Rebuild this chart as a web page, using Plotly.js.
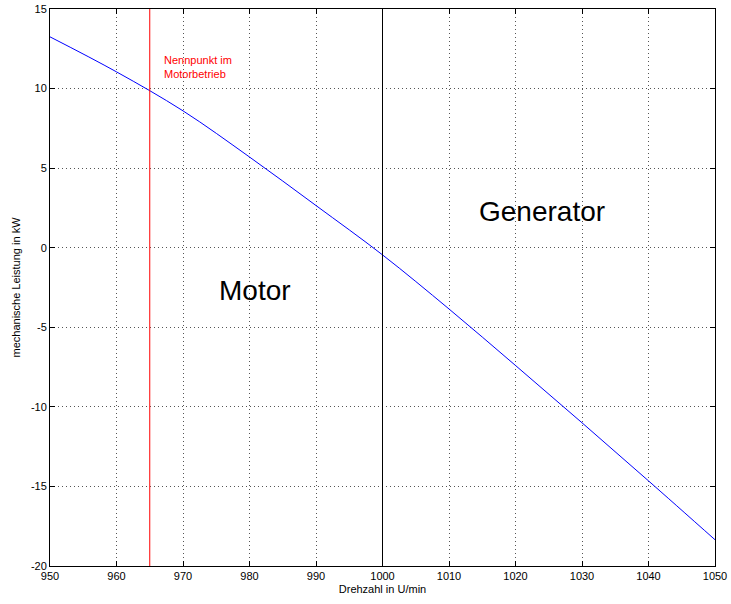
<!DOCTYPE html>
<html>
<head>
<meta charset="utf-8">
<script src="https://cdn.plot.ly/plotly-3.0.1.min.js"></script>
<style>html,body{margin:0;padding:0;background:#fff;}#chart{width:731px;height:604px;}</style>
</head>
<body>
<div id="chart"></div>
<script>
// Data
const speed = [950, 960, 970, 980, 990, 1000, 1010, 1020, 1030, 1040, 1050];
const power = [13.25, 11.05, 8.6, 5.7, 2.65, -0.45, -3.85, -7.4, -11.0, -14.65, -18.35];
const ratedSpeed = 965;
const syncSpeed = 1000;
const xTicks = [950, 960, 970, 980, 990, 1000, 1010, 1020, 1030, 1040, 1050];
const yTicks = [-20, -15, -10, -5, 0, 5, 10, 15];
const xRange = [950, 1050];
const yRange = [-20, 15];

const font = 'Liberation Sans, Arial, sans-serif';

const traces = [
  {x: speed, y: power, type: 'scatter', mode: 'lines',
   line: {color: '#0000ff', width: 1, shape: 'spline', smoothing: 1}, hoverinfo: 'skip'}
];

const axisCommon = {
  showline: true, linecolor: '#000', linewidth: 1, mirror: 'ticks',
  ticks: 'inside', ticklen: 5, tickcolor: '#000', tickwidth: 1,
  showgrid: true, gridcolor: '#555', griddash: '1px,3px', gridwidth: 1,
  zeroline: false, tickfont: {family: font, size: 11, color: '#000'}
};

const layout = {
  width: 731, height: 604,
  margin: {l: 50, r: 16, t: 9, b: 38},
  paper_bgcolor: '#fff', plot_bgcolor: '#fff',
  showlegend: false,
  font: {family: font, color: '#000'},
  xaxis: Object.assign({}, axisCommon, {
    range: xRange, tickvals: xTicks, ticktext: xTicks.map(String),
    title: {text: 'Drehzahl in U/min', font: {family: font, size: 11}, standoff: 4}
  }),
  yaxis: Object.assign({}, axisCommon, {
    range: yRange, tickvals: yTicks, ticktext: yTicks.map(String),
    title: {text: 'mechanische Leistung in kW', font: {family: font, size: 11}, standoff: 8}
  }),
  shapes: [
    {type: 'line', xref: 'x', yref: 'paper', x0: ratedSpeed, x1: ratedSpeed, y0: 0, y1: 1,
     line: {color: '#ff0000', width: 1}},
    {type: 'line', xref: 'x', yref: 'paper', x0: syncSpeed, x1: syncSpeed, y0: 0, y1: 1,
     line: {color: '#000', width: 1}}
  ],
  annotations: [
    {x: 966.8, y: 12.3, xref: 'x', yref: 'y', xanchor: 'left', yanchor: 'top',
     text: 'Nennpunkt im<br>Motorbetrieb', showarrow: false, align: 'left',
     font: {family: font, size: 11, color: '#ff0000'}},
    {x: 980.8, y: -2.7, xref: 'x', yref: 'y', xanchor: 'center', yanchor: 'middle',
     text: 'Motor', showarrow: false, font: {family: font, size: 28, color: '#000'}},
    {x: 1024.0, y: 2.3, xref: 'x', yref: 'y', xanchor: 'center', yanchor: 'middle',
     text: 'Generator', showarrow: false, font: {family: font, size: 28, color: '#000'}}
  ]
};

Plotly.newPlot('chart', traces, layout, {staticPlot: true, displayModeBar: false});
</script>
</body>
</html>
